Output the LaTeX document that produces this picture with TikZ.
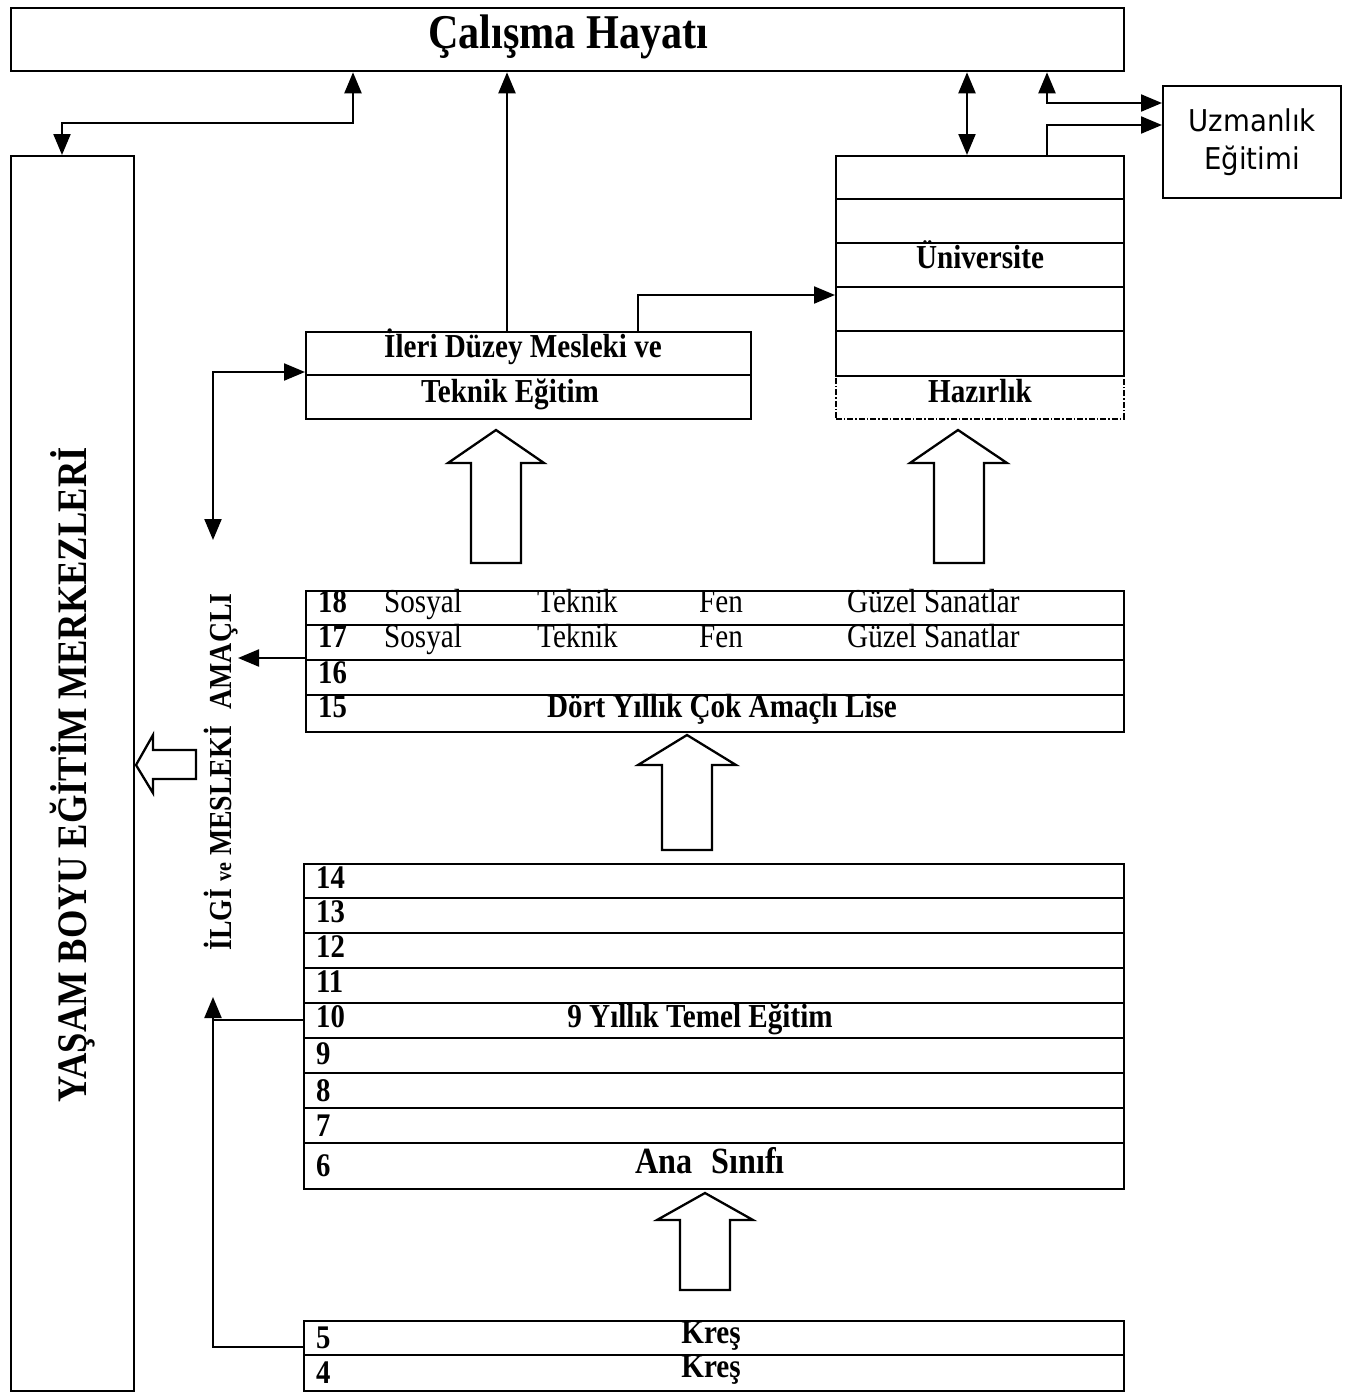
\documentclass[tikz,border=0pt]{standalone}
\usepackage{fontspec}
\setmainfont{Liberation Serif}[FakeStretch=0.87]
\newfontfamily\uzfont{DejaVu Sans}[FakeStretch=0.92]
\usetikzlibrary{arrows.meta}
\begin{document}
\begin{tikzpicture}[x=1pt,y=-1pt,
  box/.style={draw, line width=2.3pt, inner sep=0pt, anchor=north west},
  rowline/.style={line width=2.3pt},
  conn/.style={line width=2.2pt},
  tip/.style={-{Triangle[length=21pt,width=17pt]}},
  dtip/.style={{Triangle[length=21pt,width=17pt]}-{Triangle[length=21pt,width=17pt]}},
  blk/.style={draw, line width=2.3pt, fill=white, line join=miter},
  bt/.style={font=\bfseries\fontsize{33.5}{33.5}\selectfont, inner sep=0pt, anchor=base},
  rt/.style={font=\fontsize{33.5}{33.5}\selectfont, inner sep=0pt, anchor=base west},
  num/.style={font=\bfseries\fontsize{33}{33}\selectfont, inner sep=0pt, anchor=base west},
]
\useasboundingbox (0,0) rectangle (1353,1393);

% boxes
\node[box, minimum width=1113pt, minimum height=63pt] (cal) at (10,7) {};
\node[box, minimum width=123pt, minimum height=1235pt] (yas) at (10,155) {};
\node[box, minimum width=178pt, minimum height=112pt] (uzm) at (1162,85) {};
\node[box, minimum width=288pt, minimum height=220pt] (uni) at (835,155) {};
\node[box, minimum width=445pt, minimum height=87pt] (ileri) at (305,331) {};
\node[box, minimum width=818pt, minimum height=141pt] (lise) at (305,590) {};
\node[box, minimum width=820pt, minimum height=325pt] (temel) at (303,863) {};
\node[box, minimum width=820pt, minimum height=70pt] (kres) at (303,1320) {};
\node[draw, line width=1.6pt, dash pattern=on 6pt off 2pt on 1.5pt off 2pt, inner sep=0pt, anchor=north west, minimum width=288pt, minimum height=43pt] (haz) at (835,375) {};

% row lines
\foreach \y in {199,243,287,331} \draw[rowline] (835,\y) -- (1123,\y);
\draw[rowline] (305,375) -- (750,375);
\foreach \y in {625,660,695} \draw[rowline] (305,\y) -- (1123,\y);
\foreach \y in {898,933,968,1003,1038,1073,1108,1143} \draw[rowline] (303,\y) -- (1123,\y);
\draw[rowline] (303,1355) -- (1123,1355);

% texts
\node[inner sep=0pt, anchor=base west, font=\bfseries\fontsize{48.5}{48.5}\selectfont] (tcal) at (428,48) {Çalışma Hayatı};
\node[inner sep=0pt, align=center, font=\uzfont\fontsize{30}{38}\selectfont] (tuzm) at (uzm.center) {Uzmanlık\\Eğitimi};
\node[bt] (tuni) at (980,268) {Üniversite};
\node[bt] (thaz) at (980,402) {Hazırlık};
\node[bt] (til1) at (523,357) {İleri Düzey Mesleki ve};
\node[bt] (til2) at (510,402) {Teknik Eğitim};

\node[num] (n18) at (318,612) {18};
\node[num] (n17) at (318,647) {17};
\node[num] (n16) at (318,683) {16};
\node[num] (n15) at (318,717) {15};
\node[rt] (s18) at (384,612) {Sosyal};
\node[rt] (t18) at (537,612) {Teknik};
\node[rt] (f18) at (699,612) {Fen};
\node[rt] (g18) at (847,612) {Güzel Sanatlar};
\node[rt] (s17) at (384,647) {Sosyal};
\node[rt] (t17) at (537,647) {Teknik};
\node[rt] (f17) at (699,647) {Fen};
\node[rt] (g17) at (847,647) {Güzel Sanatlar};
\node[bt] (tlise) at (722,717) {Dört Yıllık Çok Amaçlı Lise};

\node[num] (n14) at (316,888) {14};
\node[num] (n13) at (316,922) {13};
\node[num] (n12) at (316,957) {12};
\node[num] (n11) at (316,992) {11};
\node[num] (n10) at (316,1027) {10};
\node[num] (n9) at (316,1064) {9};
\node[num] (n8) at (316,1101) {8};
\node[num] (n7) at (316,1136) {7};
\node[num] (n6) at (316,1176) {6};
\node[bt] (ttem) at (700,1027) {9 Yıllık Temel Eğitim};
\node[bt, font=\bfseries\fontsize{37}{37}\selectfont] (tana) at (710,1173) {Ana\hspace{0.3em} Sınıfı};

\node[num] (n5) at (316,1348) {5};
\node[num] (n4) at (316,1383) {4};
\node[bt] (tk5) at (711,1343) {Kreş};
\node[bt] (tk4) at (711,1377) {Kreş};

\node[rotate=90, anchor=base, inner sep=0pt, font=\bfseries\fontsize{42}{42}\selectfont] (tyas) at (86,775) {YAŞAM BOYU EĞİTİM MERKEZLERİ};
\node[rotate=90, anchor=base, inner sep=0pt, font=\bfseries\fontsize{32}{32}\selectfont] (tilgi) at (231,772) {İLGİ {\fontsize{23}{23}\selectfont ve} MESLEKİ\hspace{0.3em} AMAÇLI};

% connectors
\coordinate (k1) at (353,123);
\coordinate (k2) at (62,123);
\draw[conn,dtip] (cal.south -| k1) -- (k1) -- (k2) -- (yas.north -| k2);
\coordinate (k3) at (507,200);
\draw[conn,tip] (ileri.north -| k3) -- (cal.south -| k3);
\coordinate (k4) at (967,100);
\draw[conn,dtip] (cal.south -| k4) -- (uni.north -| k4);
\coordinate (k5) at (1047,103);
\draw[conn,dtip] (cal.south -| k5) -- (k5) -- (uzm.west |- k5);
\coordinate (k6) at (1047,125);
\draw[conn,tip] (uni.north -| k6) -- (k6) -- (uzm.west |- k6);
\coordinate (k7) at (638,295);
\draw[conn,tip] (ileri.north -| k7) -- (k7) -- (uni.west |- k7);
\coordinate (k8) at (213,372);
\coordinate (k9) at (213,540);
\draw[conn,dtip] (k9) -- (k8) -- (ileri.west |- k8);
\coordinate (k10) at (238,658);
\draw[conn,tip] (lise.west |- k10) -- (k10);
\coordinate (k11) at (213,1347);
\coordinate (k12) at (213,997);
\draw[conn,tip] (kres.west |- k11) -- (k11) -- (k12);
\coordinate (k13) at (213,1020);
\draw[conn] (temel.west |- k13) -- (k13);

% block arrows
\draw[blk] (496,430) -- (544,463) -- (521,463) -- (521,563) -- (471,563) -- (471,463) -- (448,463) -- cycle;
\draw[blk] (958,430) -- (1007,463) -- (984,463) -- (984,563) -- (934,563) -- (934,463) -- (910,463) -- cycle;
\draw[blk] (687,735) -- (736,765) -- (712,765) -- (712,850) -- (662,850) -- (662,765) -- (638,765) -- cycle;
\draw[blk] (705,1193) -- (753,1220) -- (730,1220) -- (730,1290) -- (680,1290) -- (680,1220) -- (657,1220) -- cycle;
\draw[blk] (136,765) -- (153,735) -- (153,750) -- (196,750) -- (196,779) -- (153,779) -- (153,793) -- cycle;
\end{tikzpicture}
\end{document}
